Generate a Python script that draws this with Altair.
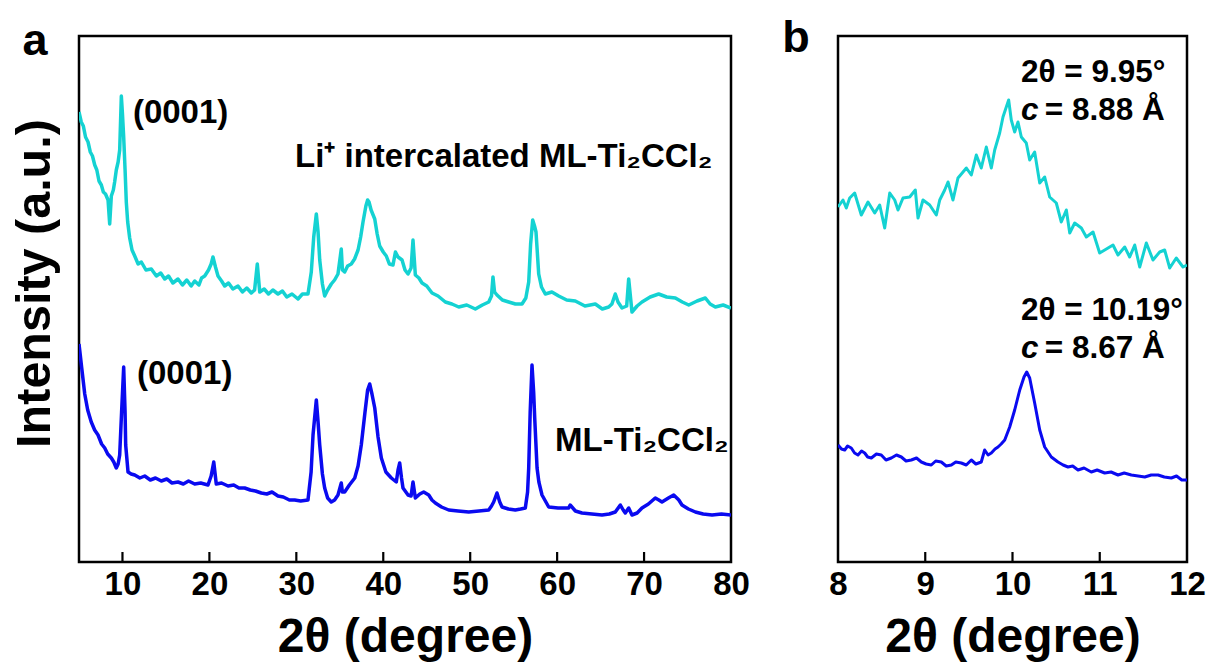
import altair as alt
import pandas as pd

# ---------------- data ----------------
# Panel a: 2theta (degree) vs intensity (a.u.)
LI_A = [(5.0, 450), (5.26, 440), (5.5, 436), (5.75, 425), (6.04, 420), (6.3, 410), (6.55, 406), (6.81, 397),
        (7.05, 392), (7.3, 381), (7.57, 377), (7.8, 370), (8.05, 368), (8.34, 362), (8.53, 338), (8.72, 366),
        (8.95, 372), (9.1, 380), (9.29, 392), (9.5, 400), (9.68, 412), (9.87, 466), (10.0, 448), (10.14, 425),
        (10.3, 392), (10.44, 360), (10.6, 340), (10.83, 324), (11.1, 312), (11.41, 306), (11.8, 298), (12.17, 300),
        (12.7, 292), (13.32, 293), (13.9, 286), (14.4, 289), (14.86, 283), (15.3, 286), (15.8, 279), (16.39, 283),
        (16.9, 277), (17.4, 282), (17.9, 276), (18.31, 281), (18.8, 277), (19.1, 284), (19.46, 286), (19.9, 292),
        (20.2, 298), (20.41, 305), (20.7, 295), (20.99, 286), (21.4, 281), (21.76, 276), (22.2, 279), (22.7, 273),
        (23.29, 276), (23.8, 270), (24.3, 274), (24.82, 269), (25.2, 272), (25.51, 298), (25.79, 270), (26.3, 273),
        (26.8, 268), (27.3, 272), (27.89, 268), (28.4, 271), (28.9, 265), (29.5, 268), (30.19, 263), (30.7, 268),
        (31.34, 268), (31.72, 290), (32.0, 325), (32.3, 348), (32.5, 330), (32.69, 302), (33.0, 278), (33.26, 266),
        (33.6, 272), (34.02, 278), (34.4, 282), (34.79, 288), (35.17, 313), (35.3, 292), (35.56, 290), (35.9, 296),
        (36.32, 298), (36.7, 303), (37.1, 312), (37.4, 325), (37.67, 340), (38.0, 356), (38.2, 362), (38.36, 360),
        (38.6, 352), (39.02, 343), (39.3, 328), (39.59, 316), (40.0, 310), (40.35, 306), (40.7, 298), (41.12, 297),
        (41.4, 310), (41.7, 305), (42.16, 302), (42.5, 292), (42.85, 288), (43.2, 294), (43.42, 322), (43.69, 287),
        (44.1, 284), (44.46, 279), (45.0, 276), (45.61, 269), (46.3, 266), (47.14, 260), (47.9, 258), (48.68, 255),
        (49.6, 257), (50.59, 253), (51.4, 257), (52.13, 260), (52.45, 266), (52.62, 285), (52.8, 270), (53.08, 267),
        (53.7, 262), (54.43, 260), (55.2, 258), (55.96, 258), (56.4, 264), (56.73, 280), (56.95, 318), (57.19, 342),
        (57.4, 336), (57.57, 330), (57.88, 288), (58.2, 275), (58.64, 268), (59.4, 270), (60.18, 266), (61.1, 262),
        (62.09, 261), (63.2, 256), (64.39, 258), (65.2, 253), (65.93, 255), (66.3, 258), (66.69, 268), (67.0, 260),
        (67.46, 254), (68.0, 256), (68.23, 283), (68.61, 250), (69.2, 256), (69.76, 260), (70.7, 265), (71.68, 268),
        (72.6, 265), (73.6, 264), (74.4, 260), (75.14, 257), (76.1, 261), (77.05, 264), (77.6, 258), (78.2, 255),
        (79.1, 257), (80.0, 254)]

ML_A = [(5.0, 218), (5.08, 212), (5.3, 195), (5.66, 168), (6.0, 152), (6.41, 140), (6.8, 132), (7.19, 127),
        (7.6, 118), (7.96, 114), (8.3, 108), (8.72, 104), (9.0, 100), (9.29, 94), (9.5, 98), (9.68, 107),
        (9.9, 150), (10.14, 195), (10.3, 150), (10.37, 117), (10.64, 90), (11.0, 88), (11.41, 87), (12.0, 84),
        (12.56, 86), (13.2, 82), (13.8, 84), (14.47, 81), (15.1, 83), (15.7, 79), (16.39, 80), (17.0, 78),
        (17.6, 81), (18.31, 78), (19.0, 79), (19.84, 77), (20.2, 86), (20.5, 100), (20.79, 78), (21.4, 79),
        (22.14, 76), (22.8, 77), (23.4, 74), (24.06, 74), (24.7, 72), (25.3, 71), (25.97, 69), (26.6, 68),
        (27.2, 70), (27.89, 66), (28.5, 65), (29.2, 62), (29.81, 62), (30.5, 61), (31.34, 62), (31.7, 90),
        (31.92, 127), (32.3, 162), (32.5, 140), (32.69, 117), (33.0, 88), (33.26, 74), (33.6, 64), (34.02, 60),
        (34.4, 62), (34.79, 67), (35.17, 79), (35.3, 70), (35.56, 70), (36.1, 77), (36.72, 84), (37.1, 96),
        (37.47, 117), (37.9, 150), (38.2, 172), (38.44, 178), (38.7, 168), (39.02, 154), (39.4, 125), (39.78, 104),
        (40.3, 90), (40.93, 84), (41.5, 80), (41.7, 92), (41.89, 99), (42.1, 84), (42.27, 74), (42.85, 67),
        (43.2, 66), (43.42, 80), (43.69, 64), (44.2, 68), (44.65, 70), (45.23, 67), (45.6, 62), (45.99, 59),
        (46.7, 55), (47.53, 52), (48.6, 51), (49.83, 50), (51.0, 51), (52.13, 52), (52.45, 56), (52.7, 60),
        (53.08, 69), (53.4, 60), (53.66, 55), (54.4, 53), (55.19, 52), (55.8, 53), (56.34, 54), (56.6, 70),
        (56.73, 94), (56.9, 150), (57.11, 197), (57.3, 170), (57.42, 144), (57.69, 94), (57.9, 80), (58.26, 67),
        (59.03, 55), (60.1, 54), (61.33, 54), (61.5, 57), (62.1, 51), (62.86, 49), (64.0, 48), (65.16, 47),
        (66.0, 48), (66.69, 50), (67.27, 57), (67.6, 52), (67.84, 49), (68.23, 54), (68.61, 47), (69.2, 49),
        (69.76, 54), (70.5, 58), (71.29, 64), (71.7, 62), (72.06, 60), (72.8, 64), (73.41, 67), (74.0, 62),
        (74.36, 57), (75.1, 53), (75.9, 50), (76.8, 48), (77.82, 47), (78.9, 48), (80.0, 47)]

# Panel b: zoom on the (0001) reflection
LI_B = [(8.0, 355), (8.057, 362), (8.095, 354), (8.134, 364), (8.191, 369), (8.267, 347), (8.344, 360),
        (8.421, 349), (8.478, 357), (8.535, 334), (8.593, 369), (8.65, 362), (8.688, 352), (8.745, 364),
        (8.822, 365), (8.886, 372), (8.917, 344), (8.974, 362), (9.051, 357), (9.127, 347), (9.166, 362),
        (9.223, 372), (9.261, 380), (9.318, 362), (9.375, 384), (9.433, 390), (9.471, 394), (9.528, 387),
        (9.585, 407), (9.642, 394), (9.7, 415), (9.757, 394), (9.796, 412), (9.853, 429), (9.891, 445),
        (9.929, 455), (9.956, 462), (9.986, 442), (10.025, 430), (10.063, 440), (10.101, 425), (10.158, 419),
        (10.197, 402), (10.254, 410), (10.312, 379), (10.369, 385), (10.426, 365), (10.502, 359), (10.559, 340),
        (10.617, 352), (10.656, 329), (10.713, 339), (10.789, 334), (10.846, 325), (10.923, 330), (10.999, 309),
        (11.057, 312), (11.152, 317), (11.209, 307), (11.286, 315), (11.343, 305), (11.401, 317), (11.458, 295),
        (11.534, 319), (11.61, 302), (11.687, 310), (11.744, 312), (11.802, 294), (11.877, 304), (11.954, 295),
        (12.0, 297)]

ML_B = [(8.0, 117), (8.04, 113), (8.077, 112), (8.11, 116), (8.152, 114), (8.19, 109), (8.229, 107), (8.27, 111),
        (8.306, 109), (8.34, 105), (8.382, 104), (8.44, 108), (8.496, 107), (8.55, 102), (8.611, 104), (8.67, 107),
        (8.726, 105), (8.78, 101), (8.84, 102), (8.9, 104), (8.955, 100), (9.01, 98), (9.069, 97), (9.12, 101),
        (9.184, 100), (9.24, 96), (9.299, 97), (9.35, 100), (9.413, 99), (9.47, 97), (9.528, 102), (9.58, 98),
        (9.642, 100), (9.681, 112), (9.72, 107), (9.757, 109), (9.8, 113), (9.834, 115), (9.87, 118), (9.911, 122),
        (9.968, 135), (10.025, 152), (10.083, 172), (10.132, 185), (10.163, 190), (10.197, 184), (10.254, 159),
        (10.312, 132), (10.369, 115), (10.445, 105), (10.521, 100), (10.58, 97), (10.636, 95), (10.69, 96),
        (10.751, 92), (10.82, 94), (10.903, 90), (10.97, 92), (11.057, 89), (11.13, 90), (11.209, 87), (11.28, 89),
        (11.362, 87), (11.44, 86), (11.516, 85), (11.59, 87), (11.668, 87), (11.74, 85), (11.82, 84), (11.88, 86),
        (11.94, 82), (12.0, 82)]

SERIES = ["Li+ intercalated ML-Ti2CCl2", "ML-Ti2CCl2"]
COLORS = ["#14D2D2", "#0A0AF0"]

TICKS_A = [10, 20, 30, 40, 50, 60, 70, 80]
TICKS_B = [8, 9, 10, 11, 12]
INNER_TICKS_A = [10, 20, 30, 40, 50, 60, 70]
INNER_TICKS_B = [9, 10, 11]

ANN_A_TEXT = ["(0001)", "Li\u207a intercalated ML-Ti\u2082CCl\u2082", "(0001)", "ML-Ti\u2082CCl\u2082"]
ANN_A_X = [11.2, 29.85, 11.67, 59.76]
ANN_A_Y = [439, 395, 178, 111]

ANN_B_TEXT = ["2\u03b8 = 9.95\u00b0", "= 8.88 \u00c5", "2\u03b8 = 10.19\u00b0", "= 8.67 \u00c5"]
ANN_B_X = [10.097, 10.37, 10.097, 10.37]
ANN_B_Y = [480, 442, 242, 204]
ANN_B_C_X = [10.097, 10.097]
ANN_B_C_Y = [442, 204]

Y_DOMAIN = [0, 526]
W_A, W_B, H = 652, 349, 526
FONT = "Liberation Sans"


def frame(pairs, name):
    return pd.DataFrame({"t": [p[0] for p in pairs], "i": [p[1] for p in pairs], "s": name})


data_a = pd.concat([frame(LI_A, SERIES[0]), frame(ML_A, SERIES[1])])
data_b = pd.concat([frame(LI_B, SERIES[0]), frame(ML_B, SERIES[1])])

color = alt.Color("s:N", scale=alt.Scale(domain=SERIES, range=COLORS), legend=None)


def panel(data, xdom, xticks, inner, width, ytitle, letter, letter_x, letter_y, sw):
    xs = alt.Scale(domain=xdom, nice=False, zero=False)
    ys = alt.Scale(domain=Y_DOMAIN, nice=False, zero=False)
    if ytitle:
        yaxis = alt.Axis(title=ytitle, labels=False, ticks=False, domain=False, grid=False,
                         titleFontSize=48.5, titlePadding=20, titleY=247)
    else:
        yaxis = None
    lines = alt.Chart(data).mark_line(strokeWidth=sw, strokeJoin="round", clip=True).encode(
        x=alt.X("t:Q", scale=xs, axis=alt.Axis(values=xticks, title="2\u03b8 (degree)", grid=False,
                                                 domain=False, ticks=False, labelFlush=False,
                                                 labelOverlap=False, format="d")),
        y=alt.Y("i:Q", scale=ys, axis=yaxis),
        color=color,
        detail="s:N",
    )
    tick_df = pd.DataFrame({"t": inner})
    ticks = alt.Chart(tick_df).mark_rule(color="black", strokeWidth=2.2).encode(
        x=alt.X("t:Q", scale=xs),
        y=alt.value(H - 10),
        y2=alt.value(H),
    )
    lab = alt.Chart(pd.DataFrame({"l": [letter]})).mark_text(
        font=FONT, fontWeight="bold", fontSize=45, align="center", baseline="alphabetic", color="black"
    ).encode(x=alt.value(letter_x), y=alt.value(letter_y), text="l:N")
    return lines, ticks, lab, xs, ys


la, ta, laba, xsa, ysa = panel(data_a, [5, 80], TICKS_A, INNER_TICKS_A, W_A, "Intensity (a.u.)", "a", -44, 19, 3.5)
ann_a = alt.Chart(pd.DataFrame({"x": ANN_A_X, "y": ANN_A_Y, "txt": ANN_A_TEXT})).mark_text(
    font=FONT, fontWeight="bold", fontSize=33, align="left", baseline="alphabetic", color="black"
).encode(x=alt.X("x:Q", scale=xsa), y=alt.Y("y:Q", scale=ysa), text="txt:N")
left = alt.layer(la, ta, ann_a, laba).properties(width=W_A, height=H)

lb, tb, labb, xsb, ysb = panel(data_b, [8, 12], TICKS_B, INNER_TICKS_B, W_B, None, "b", -42, 16, 3)
ann_b = alt.Chart(pd.DataFrame({"x": ANN_B_X, "y": ANN_B_Y, "txt": ANN_B_TEXT})).mark_text(
    font=FONT, fontWeight="bold", fontSize=31.5, align="left", baseline="alphabetic", color="black"
).encode(x=alt.X("x:Q", scale=xsb), y=alt.Y("y:Q", scale=ysb), text="txt:N")
ann_c = alt.Chart(pd.DataFrame({"x": ANN_B_C_X, "y": ANN_B_C_Y, "txt": ["c", "c"]})).mark_text(
    font=FONT, fontWeight="bold", fontStyle="italic", fontSize=31.5, align="left", baseline="alphabetic",
    color="black"
).encode(x=alt.X("x:Q", scale=xsb), y=alt.Y("y:Q", scale=ysb), text="txt:N")
right = alt.layer(lb, tb, ann_b, ann_c, labb).properties(width=W_B, height=H)

chart = alt.hconcat(left, right, spacing=107, bounds="flush").properties(
    padding={"left": 8, "top": 14, "right": 0, "bottom": 0},
    background="white",
).configure_view(
    stroke="black", strokeWidth=2.5
).configure_axis(
    labelFont=FONT, labelFontWeight="bold", labelFontSize=33, labelColor="black", labelPadding=6,
    titleFont=FONT, titleFontWeight="bold", titleFontSize=48, titleColor="black", titlePadding=12,
)

chart.save("out.html", embed_options={"renderer": "svg", "actions": False})
